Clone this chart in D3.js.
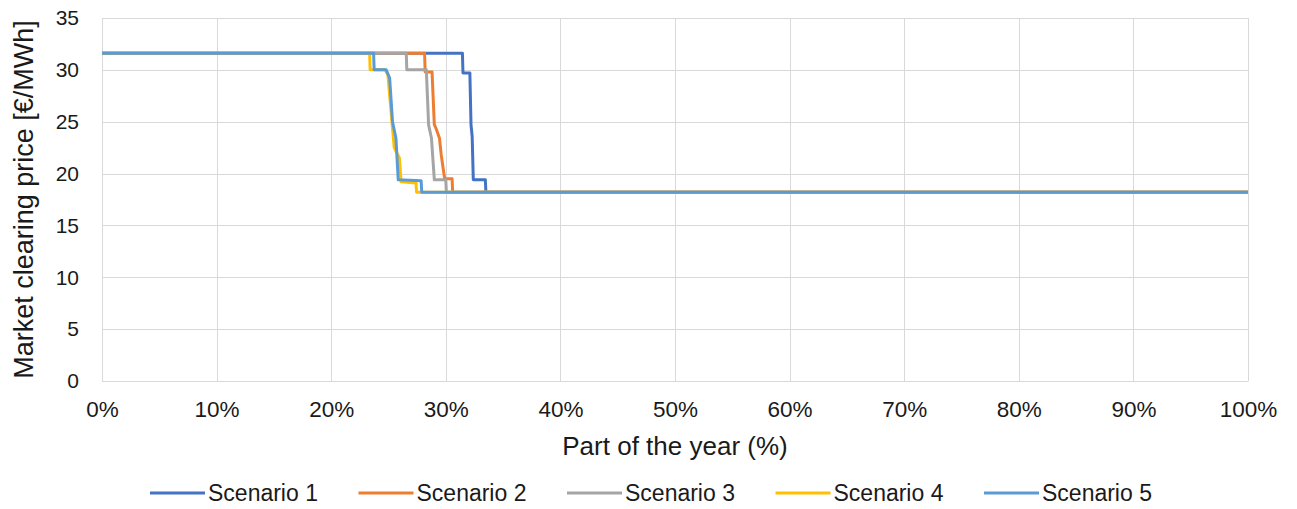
<!DOCTYPE html>
<html>
<head>
<meta charset="utf-8">
<script src="https://cdn.jsdelivr.net/npm/d3@7"></script>
<style>
  body { margin: 0; background: #fff; }
  text { font-family: "Liberation Sans", Arial, sans-serif; fill: #1a1a1a; }
</style>
</head>
<body>
<div id="chart"></div>
<script>
// --- Data: [part of the year %, price €/MWh] ---
const scenarioNames = ["Scenario 1", "Scenario 2", "Scenario 3", "Scenario 4", "Scenario 5"];
const scenarioColors = ["#4472C4", "#ED7D31", "#A5A5A5", "#FFC000", "#5B9BD5"];

const scenario1 = [[0, 31.6], [31.45, 31.6], [31.5, 29.7], [32.1, 29.7], [32.2, 24.7], [32.3, 23.6], [32.4, 19.4], [33.45, 19.4], [33.5, 18.2], [100, 18.2]];
const scenario2 = [[0, 31.6], [28.15, 31.6], [28.2, 29.8], [28.8, 29.8], [29.0, 24.7], [29.1, 24.5], [29.45, 23.4], [29.6, 21.8], [29.9, 19.5], [30.55, 19.5], [30.6, 18.2], [100, 18.2]];
const scenario3 = [[0, 31.6], [26.55, 31.6], [26.6, 30.0], [28.3, 30.0], [28.5, 24.7], [28.75, 23.4], [29.0, 19.4], [30.0, 19.4], [30.05, 18.2], [100, 18.2]];
const scenario4 = [[0, 31.6], [23.35, 31.6], [23.4, 30.0], [24.7, 30.0], [24.95, 29.5], [25.3, 25.0], [25.5, 22.5], [25.95, 21.5], [26.1, 19.2], [27.4, 19.1], [27.45, 18.2], [100, 18.2]];
const scenario5 = [[0, 31.6], [23.7, 31.6], [23.75, 30.0], [24.8, 30.0], [25.1, 29.2], [25.35, 25.0], [25.65, 23.4], [25.85, 19.4], [27.85, 19.3], [27.9, 18.2], [100, 18.2]];
const scenarios = [scenario1, scenario2, scenario3, scenario4, scenario5];

const yTicks = [0, 5, 10, 15, 20, 25, 30, 35];
const xTicks = [0, 10, 20, 30, 40, 50, 60, 70, 80, 90, 100];

// --- Layout ---
const width = 1297, height = 509;
const margin = { top: 18, right: 49, bottom: 128, left: 102 };

const svg = d3.select("#chart").append("svg")
    .attr("width", width)
    .attr("height", height);

const x = d3.scaleLinear().domain([0, 100]).range([margin.left, width - margin.right]);
const y = d3.scaleLinear().domain([0, 35]).range([height - margin.bottom, margin.top]);

// gridlines
svg.append("g")
    .selectAll("line.h")
    .data(yTicks)
    .join("line")
    .attr("x1", x(0)).attr("x2", x(100))
    .attr("y1", d => Math.round(y(d)) + 0.5).attr("y2", d => Math.round(y(d)) + 0.5)
    .attr("stroke", "#D9D9D9");

svg.append("g")
    .selectAll("line.v")
    .data(xTicks)
    .join("line")
    .attr("x1", d => Math.round(x(d)) + 0.5).attr("x2", d => Math.round(x(d)) + 0.5)
    .attr("y1", y(35)).attr("y2", y(0))
    .attr("stroke", "#D9D9D9");

// axis labels
const yAxis = d3.axisLeft(y).tickValues(yTicks).tickSize(0).tickPadding(23);
svg.append("g")
    .attr("transform", `translate(${x(0)},0)`)
    .call(yAxis)
    .call(g => g.select(".domain").remove())
    .selectAll("text")
    .attr("font-size", 21);

const xAxis = d3.axisBottom(x).tickValues(xTicks).tickSize(0).tickPadding(20)
    .tickFormat(d => d + "%");
svg.append("g")
    .attr("transform", `translate(0,${y(0)})`)
    .call(xAxis)
    .call(g => g.select(".domain").attr("stroke", "#D9D9D9"))
    .selectAll("text")
    .attr("font-size", 22.5);

svg.selectAll(".tick text").style("fill", "#1a1a1a");

// axis titles
svg.append("text")
    .attr("x", (x(0) + x(100)) / 2)
    .attr("y", 455)
    .attr("text-anchor", "middle")
    .attr("font-size", 26)
    .text("Part of the year (%)");

svg.append("text")
    .attr("transform", `translate(33,${(y(0) + y(35)) / 2}) rotate(-90)`)
    .attr("text-anchor", "middle")
    .attr("font-size", 27)
    .text("Market clearing price [€/MWh]");

// series
const line = d3.line()
    .x(d => x(d[0]))
    .y(d => y(d[1]));

svg.append("g")
    .selectAll("path")
    .data(scenarios)
    .join("path")
    .attr("d", line)
    .attr("fill", "none")
    .attr("stroke", (d, i) => scenarioColors[i])
    .attr("stroke-width", 3)
    .attr("stroke-linejoin", "round");

// legend
const legend = svg.append("g")
    .selectAll("g")
    .data(scenarioNames)
    .join("g")
    .attr("transform", (d, i) => `translate(${150 + i * 208.5},493)`);

legend.append("line")
    .attr("x1", 0).attr("x2", 55)
    .attr("stroke", (d, i) => scenarioColors[i])
    .attr("stroke-width", 3);

legend.append("text")
    .attr("x", 58)
    .attr("dy", "0.35em")
    .attr("font-size", 23)
    .text(d => d);
</script>
</body>
</html>
